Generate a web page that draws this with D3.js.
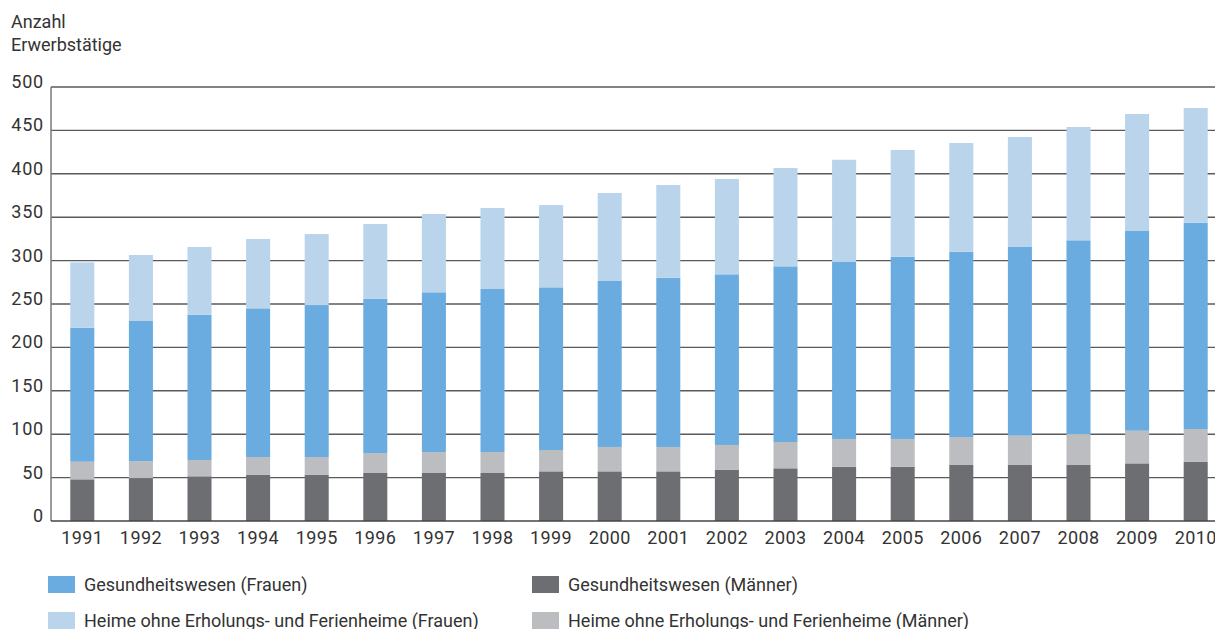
<!DOCTYPE html>
<html>
<head>
<meta charset="utf-8">
<script src="https://cdn.jsdelivr.net/npm/d3@7"></script>
<style>
  body { margin: 0; background: #fff; }
  svg text { font-family: Roboto, "Open Sans", sans-serif; fill: #333; }
</style>
</head>
<body>
<svg id="chart"></svg>
<script>
// Years on the x axis
var years = ["1991","1992","1993","1994","1995","1996","1997","1998","1999","2000",
             "2001","2002","2003","2004","2005","2006","2007","2008","2009","2010"];

// Series values (Anzahl Erwerbstätige), stacked bottom to top
var gesundheitMaenner = [48, 49.5, 51.5, 53.4, 53.4, 55.3, 55.3, 55.3, 57.2, 57.2,
                         57.2, 58.8, 60.7, 62.6, 62.6, 64.5, 64.5, 64.5, 66.4, 68.4];
var heimeMaenner      = [20.3, 19.5, 18.8, 20.3, 20.3, 23, 24.2, 24.2, 24.6, 28.1,
                         28.1, 28.8, 30.3, 31.9, 31.9, 32.3, 33.8, 35.7, 37.6, 37.6];
var gesundheitFrauen  = [154.4, 161.4, 167.4, 171.3, 175.1, 177.8, 184, 187.8, 187.4, 191.2,
                         195, 196.6, 202.4, 204.2, 210, 213.5, 217.4, 223.2, 230.1, 237.7];
var heimeFrauen       = [75.3, 76.1, 78, 79.9, 81.8, 86.1, 90.2, 93.3, 94.8, 101.4,
                         106.8, 109.8, 113.3, 117.5, 122.9, 125.2, 126.7, 130.5, 134.8, 132.1];

var yTicks = [0, 50, 100, 150, 200, 250, 300, 350, 400, 450, 500];

var seriesKeys = ["gm", "hm", "gf", "hf"];
var seriesLabels = {
    gf: "Gesundheitswesen (Frauen)",
    gm: "Gesundheitswesen (Männer)",
    hf: "Heime ohne Erholungs- und Ferienheime (Frauen)",
    hm: "Heime ohne Erholungs- und Ferienheime (Männer)"
};
var seriesColours = { gm: "#6d6e71", hm: "#bcbdc0", gf: "#6aacdf", hf: "#bad4ec" };

var width = 1215, height = 629;

// Build the table for d3.stack
var table = years.map(function (y, i) {
    return { year: y, gm: gesundheitMaenner[i], hm: heimeMaenner[i],
             gf: gesundheitFrauen[i], hf: heimeFrauen[i] };
});

var svg = d3.select("#chart")
    .attr("width", width)
    .attr("height", height);

// Scales
var x = d3.scaleBand()
    .domain(years)
    .range([53, 1225])
    .paddingInner(0.59)
    .paddingOuter(0.295);

var y = d3.scaleLinear()
    .domain([0, 500])
    .range([521, 87]);

// Gridlines (behind the bars)
svg.append("g")
    .selectAll("line")
    .data(yTicks.filter(function (d) { return d > 0; }))
    .enter().append("line")
    .attr("x1", 51)
    .attr("x2", width)
    .attr("y1", function (d) { return y(d); })
    .attr("y2", function (d) { return y(d); })
    .attr("stroke", "#5a5a5c")
    .attr("stroke-width", 1.4);

// Stacked bars
var stack = d3.stack().keys(seriesKeys);
var layers = svg.append("g")
    .selectAll("g")
    .data(stack(table))
    .enter().append("g")
    .attr("fill", function (d) { return seriesColours[d.key]; });

layers.selectAll("rect")
    .data(function (d) { return d; })
    .enter().append("rect")
    .attr("x", function (d) { return x(d.data.year); })
    .attr("width", x.bandwidth())
    .attr("y", function (d) { return y(d[1]); })
    .attr("height", function (d) { return y(d[0]) - y(d[1]); });

// Axis lines
svg.append("line")
    .attr("x1", 51).attr("x2", 51)
    .attr("y1", y(500)).attr("y2", y(0))
    .attr("stroke", "#7a7a7c")
    .attr("stroke-width", 1.5);

svg.append("line")
    .attr("x1", 51).attr("x2", width)
    .attr("y1", y(0)).attr("y2", y(0))
    .attr("stroke", "#444")
    .attr("stroke-width", 1.5);

// Y tick labels
svg.append("g")
    .selectAll("text")
    .data(yTicks)
    .enter().append("text")
    .attr("x", 44)
    .attr("y", function (d) { return y(d) + 1; })
    .attr("text-anchor", "end")
    .style("font-size", "18px")
    .style("letter-spacing", "0.8px")
    .text(function (d) { return d; });

// X tick labels
svg.append("g")
    .selectAll("text")
    .data(years)
    .enter().append("text")
    .attr("x", function (d) { return x(d) + x.bandwidth() / 2; })
    .attr("y", 544)
    .attr("text-anchor", "middle")
    .style("font-size", "18px")
    .style("letter-spacing", "0.4px")
    .text(function (d) { return d; });

// Y axis title
svg.append("text")
    .attr("x", 11).attr("y", 28)
    .style("font-size", "18px")
    .text("Anzahl");
svg.append("text")
    .attr("x", 11).attr("y", 51)
    .style("font-size", "18px")
    .text("Erwerbstätige");

// Legend
var legendOrder = ["gf", "gm", "hf", "hm"];
var legend = svg.append("g")
    .selectAll("g")
    .data(legendOrder)
    .enter().append("g")
    .attr("transform", function (d, i) {
        return "translate(" + (i % 2 === 0 ? 48 : 532) + "," + (i < 2 ? 576 : 612) + ")";
    });

legend.append("rect")
    .attr("width", 27)
    .attr("height", 17)
    .attr("fill", function (d) { return seriesColours[d]; });

legend.append("text")
    .attr("x", 36)
    .attr("y", 15)
    .style("font-size", "18px")
    .text(function (d) { return seriesLabels[d]; });
</script>
</body>
</html>
